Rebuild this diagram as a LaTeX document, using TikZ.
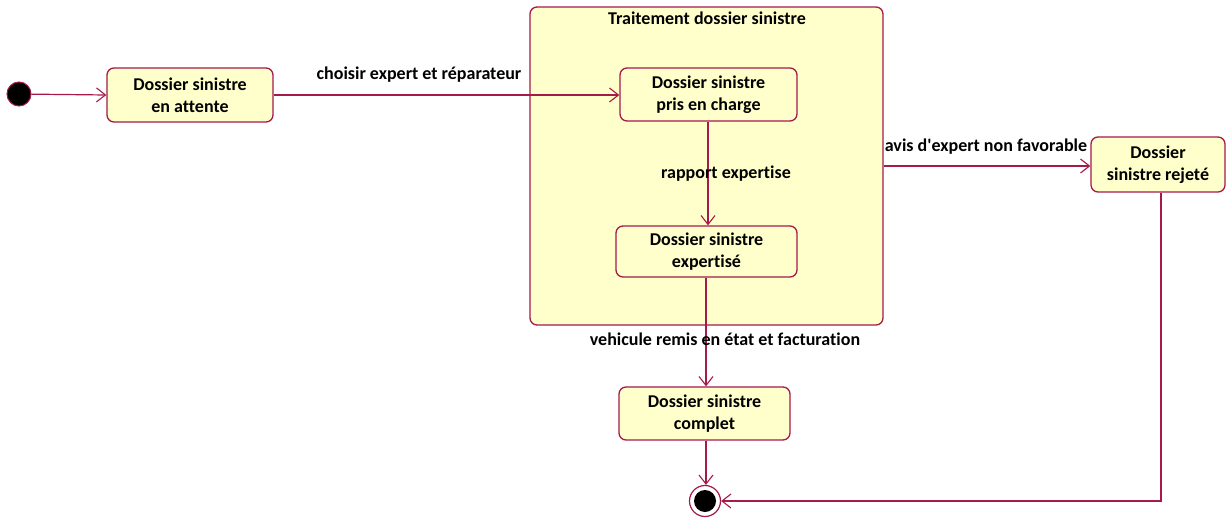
\documentclass[tikz,border=0pt]{standalone}
\usepackage{fontspec}
\setmainfont[Ligatures={NoCommon}]{Carlito}
\usetikzlibrary{arrows.meta,calc}
\definecolor{stateline}{RGB}{165,25,75}
\definecolor{statefill}{RGB}{255,255,204}
\tikzset{
  statebox/.style={draw=stateline, fill=statefill, line width=1.3pt, rounded corners=7pt,
    align=center, inner sep=0pt, font=\fontsize{18}{22}\selectfont\bfseries},
  trans/.style={draw=stateline, line width=1.2pt,
    -{Straight Barb[length=9pt,width=14pt,line width=1.1pt]}},
  lbl/.style={font=\fontsize{18}{22}\selectfont\bfseries, inner sep=1pt, text=black},
}
\begin{document}
\begin{tikzpicture}[x=1pt,y=-1pt]
\useasboundingbox (0,0) rectangle (1226,517);

% composite state
\node[statebox, minimum width=353pt, minimum height=318pt] (comp) at (706.5,166) {};
\node[lbl] (compt) at (707,18) {Traitement dossier sinistre};

% states
\node[circle, fill=black, draw=stateline, line width=1pt, minimum size=24pt, inner sep=0pt] (init) at (19,94) {};
\node[statebox, minimum width=166pt, minimum height=54pt] (att) at (190,95) {Dossier sinistre\\en attente};
\node[statebox, minimum width=177pt, minimum height=53pt] (prise) at (708.5,94.5) {Dossier sinistre\\pris en charge};
\node[statebox, minimum width=181pt, minimum height=51pt] (expt) at (706.5,251.5) {Dossier sinistre\\expertisé};
\node[statebox, minimum width=171pt, minimum height=53pt] (compl) at (704.5,413.5) {Dossier sinistre\\complet};
\node[statebox, minimum width=134pt, minimum height=55pt] (rej) at (1158,164.5) {Dossier\\sinistre rejeté};

% final state
\node[circle, draw=stateline, fill=white, line width=1.2pt, minimum size=31pt, inner sep=0pt] (fin) at (705,501) {};
\node[circle, fill=black, minimum size=22pt, inner sep=0pt] (finin) at (fin) {};

% transitions
\draw[trans] (init) -- (att.west);
\draw[trans] (att.east) -- (att.east -| prise.west);
\draw[trans] (prise.south -| 708,0) -- (expt.north -| 708,0);
\draw[trans] (expt.south -| 706,0) -- (compl.north -| 706,0);
\draw[trans] (compl.south -| 706,0) -- (fin.north -| 706,0);
\draw[trans] (comp.east) -- (comp.east -| rej.west);
\coordinate (bend) at (1161,501);
\draw[trans] (rej.south -| bend) -- (bend) -- (fin.east);

% transition labels
\node[lbl] (l1) at (419,75) {choisir expert et réparateur};
\node[lbl] (l2) at (726,174) {rapport expertise};
\node[lbl] (l3) at (725,339) {vehicule remis en état et facturation};
\node[lbl] (l4) at (986,147) {avis d\textquotesingle expert non favorable};
\end{tikzpicture}
\end{document}
